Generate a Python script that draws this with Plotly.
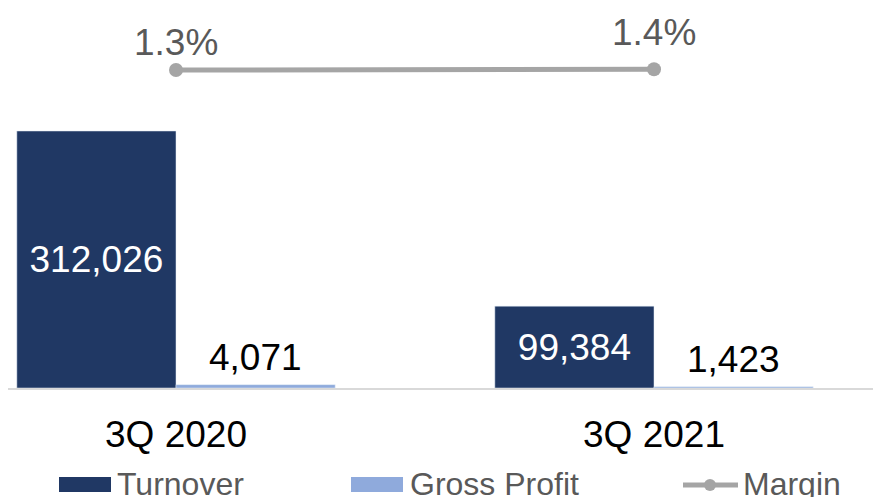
import plotly.graph_objects as go

# data
quarters = ["3Q 2020", "3Q 2021"]
turnover = [312026, 99384]
gross_profit = [4071, 1423]
margin = [1.3, 1.4]
series_names = ["Turnover", "Gross Profit", "Margin"]

NAVY = "#203864"
LIGHT = "#8FAADC"
GREY = "#A5A5A5"
FONT = "Liberation Sans, Arial, sans-serif"

W, H = 881, 497
OFF = 8            # page body margin: figure sits 8px right/down
PLOT_H = 388 - OFF  # plot area height in px (top margin 0)
X0 = 176 - OFF      # px of first category centre
STEP = 478          # px between categories
x_pos = list(range(len(quarters)))
bw = 0.333

fig = go.Figure()

fig.add_trace(go.Bar(
    x=x_pos, y=turnover, name=series_names[0],
    offset=-bw, width=bw, marker_color=NAVY,
    text=[f"{v:,}" for v in turnover], textposition="inside",
    insidetextanchor="middle",
    textfont=dict(color="white", size=37, family=FONT),
))
fig.add_trace(go.Bar(
    x=x_pos, y=gross_profit, name=series_names[1],
    offset=0, width=bw, marker_color=LIGHT,
))
fig.add_trace(go.Scatter(
    x=x_pos, y=margin, name=series_names[2], yaxis="y2",
    mode="lines+markers",
    line=dict(color=GREY, width=5),
    marker=dict(color=GREY, size=14),
))

# labels above gross profit bars
for xi, v in zip(x_pos, gross_profit):
    fig.add_annotation(x=xi + bw / 2, y=v, text=f"{v:,}", showarrow=False,
                       yanchor="bottom", yshift=5,
                       font=dict(size=37, color="black", family=FONT))

# margin labels
margin_shift = [28, 37]
for xi, v, s in zip(x_pos, margin, margin_shift):
    fig.add_annotation(x=xi, y=v, yref="y2", text=f"{v:.1f}%", showarrow=False,
                       yanchor="middle", yshift=s,
                       font=dict(size=37, color="#595959", family=FONT))


# custom legend along the bottom edge (positions in page px)
def px_x(p):
    return (p - OFF) / W


def px_y(p):
    return (PLOT_H - (p - OFF)) / PLOT_H


fig.add_shape(type="rect", xref="paper", yref="paper",
              x0=px_x(59), x1=px_x(111), y0=px_y(492), y1=px_y(477),
              fillcolor=NAVY, line_width=0)
fig.add_shape(type="rect", xref="paper", yref="paper",
              x0=px_x(351), x1=px_x(403), y0=px_y(492), y1=px_y(477),
              fillcolor=LIGHT, line_width=0)
fig.add_shape(type="line", xref="paper", yref="paper",
              x0=px_x(683), x1=px_x(738), y0=px_y(485), y1=px_y(485),
              line=dict(color=GREY, width=5))
fig.add_shape(type="circle", xref="paper", yref="paper",
              x0=px_x(704), x1=px_x(716), y0=px_y(491), y1=px_y(479),
              fillcolor=GREY, line_width=0)
for name, xp in zip(series_names, [115, 408, 741]):
    fig.add_annotation(xref="paper", yref="paper", x=px_x(xp), y=px_y(484),
                       text=name, showarrow=False, xanchor="left", yanchor="middle",
                       font=dict(size=32, color="#595959", family=FONT))

fig.update_layout(
    width=W, height=H,
    margin=dict(l=0, r=0, t=0, b=H - PLOT_H, autoexpand=False),
    paper_bgcolor="white", plot_bgcolor="white",
    barmode="overlay", showlegend=False,
    font=dict(family=FONT),
    xaxis=dict(
        range=[-X0 / STEP, (W - X0) / STEP],
        tickvals=x_pos, ticktext=quarters,
        ticks="outside", ticklen=13, tickcolor="rgba(0,0,0,0)",
        tickfont=dict(size=37, color="black"),
        showgrid=False, zeroline=False,
        showline=True, linecolor="#D9D9D9", linewidth=2,
    ),
    yaxis=dict(range=[0, 312026 * PLOT_H / 257], visible=False, showgrid=False),
    yaxis2=dict(range=[1.3 - (PLOT_H - (70 - OFF)) / 7, 1.3 + (70 - OFF) / 7],
                overlaying="y", visible=False, showgrid=False),
)

fig.write_html("out.html")
